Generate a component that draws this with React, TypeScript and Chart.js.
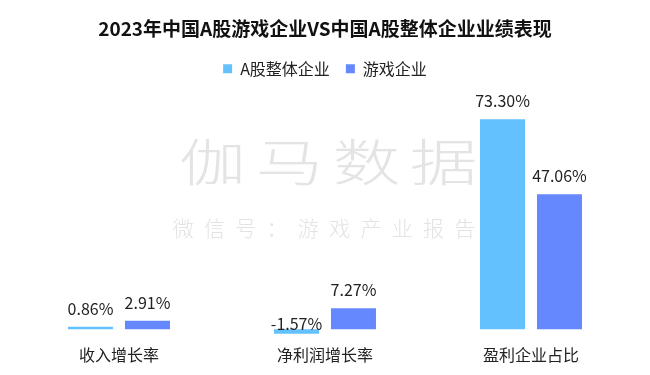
import React, { useEffect, useRef } from "react";
import { Chart, registerables } from "chart.js";

Chart.register(...registerables);

const categories = ["收入增长率", "净利润增长率", "盈利企业占比"];
const seriesNames = ["A股整体企业", "游戏企业"];
const aShareValues = [0.86, -1.57, 73.3];
const gameValues = [2.91, 7.27, 47.06];
const titleText = "2023年中国A股游戏企业VS中国A股整体企业业绩表现";
const watermarkMain = "伽马数据";
const watermarkSub = "微信号：游戏产业报告";

const FONT = '"Noto Sans CJK SC", "Noto Sans", sans-serif';
const LIGHT = "#63C1FE";
const DARK = "#6688FE";

const watermarkPlugin = {
  id: "watermark",
  beforeDatasetsDraw(chart: any) {
    const ctx = chart.ctx;
    ctx.save();
    ctx.textAlign = "center";
    ctx.textBaseline = "middle";
    ctx.fillStyle = "#e4e4e4";
    const mainPitch = 77;
    const mainCx = 328;
    const mainCy = 162;
    ctx.font = `300 50px ${FONT}`;
    const n = watermarkMain.length;
    for (let i = 0; i < n; i++) {
      const x = mainCx + (i - (n - 1) / 2) * mainPitch;
      ctx.save();
      ctx.translate(x, mainCy);
      ctx.scale(1.35, 1);
      ctx.fillText(watermarkMain[i], 0, 0);
      ctx.restore();
    }
    ctx.fillStyle = "#e3e3e3";
    ctx.font = `300 21px ${FONT}`;
    const subPitch = 31.3;
    const subCx = 324;
    const subCy = 228;
    const m = watermarkSub.length;
    for (let i = 0; i < m; i++) {
      const x = subCx + (i - (m - 1) / 2) * subPitch;
      ctx.fillText(watermarkSub[i], x, subCy);
    }
    ctx.restore();
  },
};

const valueLabelPlugin = {
  id: "valueLabels",
  afterDatasetsDraw(chart: any) {
    const ctx = chart.ctx;
    ctx.save();
    ctx.textAlign = "center";
    ctx.textBaseline = "middle";
    ctx.fillStyle = "#222222";
    ctx.font = `16px ${FONT}`;
    chart.data.datasets.forEach((ds: any, di: number) => {
      const meta = chart.getDatasetMeta(di);
      meta.data.forEach((bar: any, i: number) => {
        const v = ds.data[i];
        const top = Math.min(bar.y, bar.base);
        const y = v >= 0 ? top - 18 : top - 5;
        ctx.fillText(v.toFixed(2) + "%", bar.x, y);
      });
    });
    ctx.restore();
  },
};

export default function App() {
  const canvasRef = useRef<HTMLCanvasElement | null>(null);

  useEffect(() => {
    if (!canvasRef.current) return;
    const chart = new Chart(canvasRef.current, {
      type: "bar",
      data: {
        labels: categories,
        datasets: [
          {
            label: seriesNames[0],
            data: aShareValues,
            backgroundColor: LIGHT,
            barPercentage: 0.79,
            categoryPercentage: 0.553,
          },
          {
            label: seriesNames[1],
            data: gameValues,
            backgroundColor: DARK,
            barPercentage: 0.79,
            categoryPercentage: 0.553,
          },
        ],
      },
      options: {
        animation: false,
        responsive: true,
        maintainAspectRatio: false,
        layout: { padding: { left: 16, right: 16, top: 0, bottom: 10 } },
        plugins: {
          title: {
            display: true,
            text: titleText,
            color: "#111111",
            font: { family: FONT, size: 19, weight: "bold" },
            padding: { top: 17, bottom: 5 },
          },
          legend: {
            display: true,
            labels: {
              boxWidth: 9,
              boxHeight: 9,
              padding: 16,
              color: "#222222",
              font: { family: FONT, size: 16 },
            },
          },
          tooltip: { enabled: false },
        },
        scales: {
          x: {
            grid: { display: false },
            border: { display: false },
            ticks: {
              color: "#222222",
              padding: 0,
              font: { family: FONT, size: 16 },
            },
          },
          y: {
            display: false,
            min: -3,
            max: 84.6,
          },
        },
      },
      plugins: [watermarkPlugin, valueLabelPlugin],
    });
    return () => chart.destroy();
  }, []);

  return (
    <div style={{ position: "fixed", left: 0, top: 0, width: 650, height: 375, background: "#ffffff" }}>
      <canvas ref={canvasRef} />
    </div>
  );
}
